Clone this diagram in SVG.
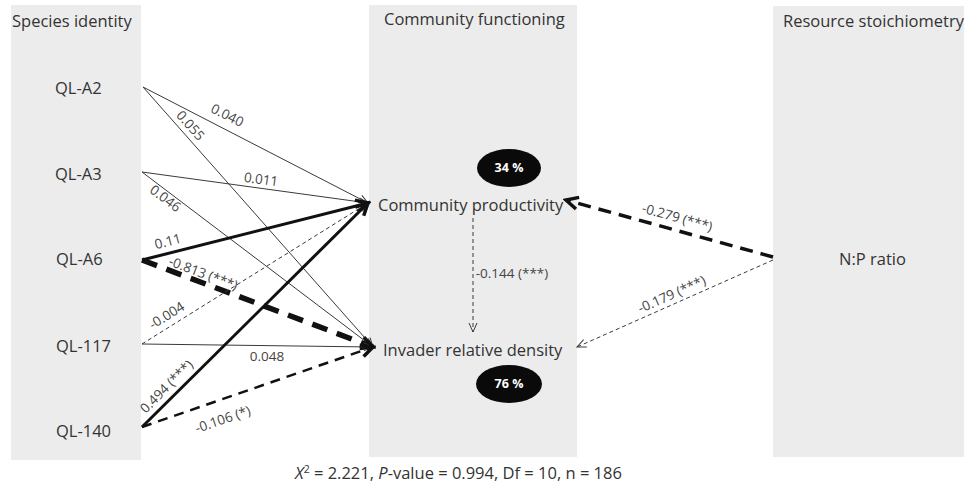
<svg xmlns="http://www.w3.org/2000/svg" width="964" height="489" viewBox="0 0 964 489">
<style>
.panel{fill:#ececec}
.title{font-family:"Open Sans","Liberation Sans",sans-serif;font-size:16.5px;fill:#333}
.node{font-family:"Open Sans","Liberation Sans",sans-serif;font-size:16.5px;fill:#333}
.lbl{font-family:"Open Sans","Liberation Sans",sans-serif;font-size:13.5px;fill:#444;text-anchor:middle}
.pct{font-family:"Open Sans","Liberation Sans",sans-serif;font-size:12.5px;font-weight:bold;fill:#fff;text-anchor:middle}
.thin{fill:none;stroke:#3a3a3a;stroke-width:1}
.thind{fill:none;stroke:#3a3a3a;stroke-width:1;stroke-dasharray:4 3}
.thick{fill:none;stroke:#111;stroke-width:3}
.thickd{fill:none;stroke:#111;stroke-width:5.5;stroke-dasharray:16 10}
.medd{fill:none;stroke:#111;stroke-width:2.5;stroke-dasharray:10 7}
.npd{fill:none;stroke:#111;stroke-width:3.5;stroke-dasharray:13 8}
</style>
<defs>
<marker id="ahs" markerUnits="userSpaceOnUse" viewBox="0 0 12 12" markerWidth="12" markerHeight="12" refX="11" refY="6" orient="auto">
<path d="M2,2 L11,6 L2,10" fill="none" stroke="#3a3a3a" stroke-width="1"/>
</marker>
<marker id="ahl" markerUnits="userSpaceOnUse" viewBox="0 0 18 18" markerWidth="18" markerHeight="18" refX="15" refY="9" orient="auto">
<path d="M3,3 L15,9 L3,15" fill="none" stroke="#111" stroke-width="3.5"/>
</marker>
</defs>
<rect width="964" height="489" fill="#fff"/>
<g id="panels">
<rect class="panel" x="11" y="5" width="130" height="455"/>
<rect class="panel" x="369" y="5" width="208" height="452"/>
<rect class="panel" x="773" y="6" width="191" height="451"/>
<text class="title" x="12" y="27">Species identity</text>
<text class="title" x="384" y="25">Community functioning</text>
<text class="title" x="783" y="27">Resource stoichiometry</text>
</g>
<g id="connectors">
<path class="thin" d="M143,87 L368,203" marker-end="url(#ahs)"/>
<path class="thin" d="M143,87 L373,347" marker-end="url(#ahs)"/>
<path class="thin" d="M142,172 L368,203" marker-end="url(#ahs)"/>
<path class="thin" d="M142,172 L373,347" marker-end="url(#ahs)"/>
<path class="thick" d="M142,260 L368,203" marker-end="url(#ahl)"/>
<path class="thickd" d="M142,260 L373,347" marker-end="url(#ahl)"/>
<path class="thind" d="M142,344 L368,203" marker-end="url(#ahs)"/>
<path class="thin" d="M142,344 L373,347" marker-end="url(#ahs)"/>
<path class="thick" d="M142,427 L368,203" marker-end="url(#ahl)"/>
<path class="medd" d="M142,427 L373,347" marker-end="url(#ahl)"/>
<path class="thind" d="M473,218 L473,332" marker-end="url(#ahs)"/>
<path class="npd" d="M773,257 L566,200" marker-end="url(#ahl)"/>
<path class="thind" d="M773,260 L577,347" marker-end="url(#ahs)"/>
<text class="lbl" transform="translate(227,116) rotate(27)" y="4">0.040</text>
<text class="lbl" transform="translate(190,126) rotate(48.5)" y="4">0.055</text>
<text class="lbl" transform="translate(261,180) rotate(7.6)" y="4">0.011</text>
<text class="lbl" transform="translate(165,199) rotate(37)" y="4">0.046</text>
<text class="lbl" transform="translate(168,242) rotate(-14.4)" y="4">0.11</text>
<text class="lbl" transform="translate(203,274) rotate(20.6)" y="4">-0.813 (***)</text>
<text class="lbl" transform="translate(167,316) rotate(-32)" y="4">-0.004</text>
<text class="lbl" transform="translate(267,357)" y="4">0.048</text>
<text class="lbl" transform="translate(167,387) rotate(-45)" y="4">0.494 (***)</text>
<text class="lbl" transform="translate(223,420) rotate(-19)" y="4">-0.106 (*)</text>
<text class="lbl" x="512" y="278">-0.144 (***)</text>
<text class="lbl" transform="translate(677,218) rotate(15.4)" y="4">-0.279 (***)</text>
<text class="lbl" transform="translate(672,295) rotate(-23.9)" y="4">-0.179 (***)</text>
</g>
<g id="ql-a2"><text class="node" x="55" y="94">QL-A2</text></g>
<g id="ql-a3"><text class="node" x="55" y="180">QL-A3</text></g>
<g id="ql-a6"><text class="node" x="56" y="265">QL-A6</text></g>
<g id="ql-117"><text class="node" x="56" y="352">QL-117</text></g>
<g id="ql-140"><text class="node" x="56" y="437">QL-140</text></g>
<g id="productivity">
<text class="node" x="378" y="211">Community productivity</text>
<ellipse cx="509" cy="168" rx="32" ry="19" fill="#0a0a0a"/>
<text class="pct" x="509" y="172">34 %</text>
</g>
<g id="invader">
<text class="node" x="383" y="356">Invader relative density</text>
<ellipse cx="509" cy="384" rx="33" ry="19" fill="#0a0a0a"/>
<text class="pct" x="509" y="388">76 %</text>
</g>
<g id="np-ratio"><text class="node" x="839" y="265">N:P ratio</text></g>
<g id="stats">
<text class="node" x="295" y="479" font-size="17"><tspan font-style="italic">X</tspan><tspan font-size="10.5" dy="-6">2</tspan><tspan dy="6"> = 2.221, </tspan><tspan font-style="italic">P</tspan>-value = 0.994, Df = 10, n = 186</text>
</g>
</svg>
